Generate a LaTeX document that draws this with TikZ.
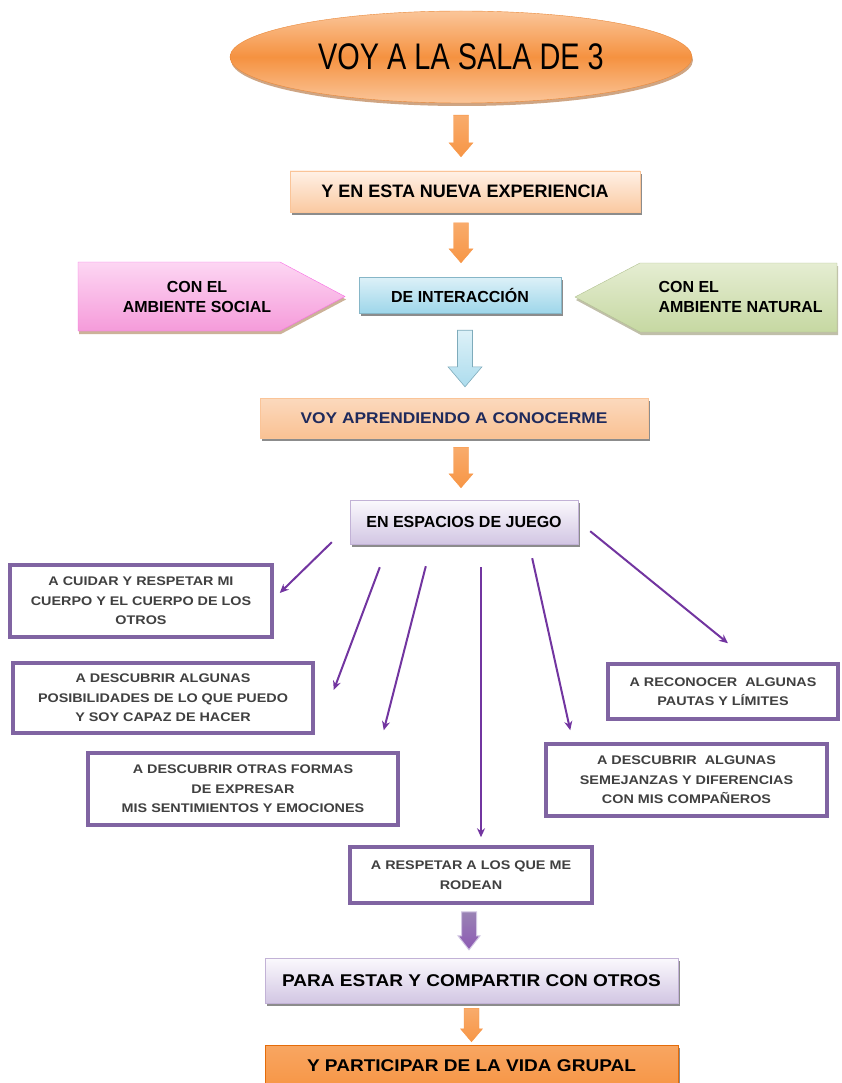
\documentclass[tikz,border=0pt]{standalone}
\usepackage{fontspec}
\setmainfont{Liberation Sans}
\newfontfamily\narrowfont[FakeStretch=0.78]{Liberation Sans}
\newfontfamily\widefont[FakeStretch=1.12]{Liberation Sans}
\newfontfamily\boxfont[FakeStretch=1.15]{Liberation Sans}
\usetikzlibrary{shapes.geometric,shadows,calc,arrows.meta}

\definecolor{orangecustom}{HTML}{F79646}
\definecolor{orangedeep}{HTML}{E46C0A}
\definecolor{peachlight}{HTML}{FFF1E6}
\definecolor{peach}{HTML}{FAC9A1}
\definecolor{bluelight}{HTML}{DDF1F8}
\definecolor{bluemid}{HTML}{9ED6EA}
\definecolor{lilaclight}{HTML}{FBF9FD}
\definecolor{lilac}{HTML}{D2C6E3}
\definecolor{purplecustom}{HTML}{8064A2}
\definecolor{violetline}{HTML}{7030A0}
\definecolor{navytext}{HTML}{1F2A5C}
\definecolor{pinklight}{HTML}{FDD6F3}
\definecolor{pinkdark}{HTML}{F59BDA}
\definecolor{greenlight}{HTML}{E5EDD2}
\definecolor{greendark}{HTML}{C6D8A2}

\tikzset{
  shade box/.style={rectangle, inner sep=0pt, align=center,
    drop shadow={shadow xshift=2pt, shadow yshift=-3pt, fill=black!75, opacity=0.6}},
  peachbox/.style={shade box, top color=peachlight, bottom color=peach, draw=peach!90!orangecustom},
  bluebox/.style={shade box, top color=bluelight, bottom color=bluemid, draw=bluemid!85!black},
  lilacbox/.style={shade box, top color=lilaclight, bottom color=lilac, draw=lilac!80!purplecustom},
  orangebox/.style={shade box, top color=orangecustom!85, bottom color=orangecustom, draw=orangedeep},
  itembox/.style={rectangle, draw=purplecustom, line width=3.5pt, fill=white, inner sep=0pt,
    align=center, text=black!75, font=\boxfont\bfseries\fontsize{12.5}{19.5}\selectfont},
  link/.style={draw=violetline!90!purplecustom, line width=2pt, -{Stealth[length=9pt,width=8pt]}},
  orangearrow/.style={top color=orangecustom!80, bottom color=orangecustom, draw=orangecustom},
  bluearrow/.style={top color=bluelight, bottom color=bluemid!85, draw=bluemid!80!black, line width=0.6pt},
  violetarrow/.style={top color=purplecustom!80, bottom color=violetline!80, draw=lilac, line width=1pt}
}

% block arrow pointing down: style, from, to, half shaft, half head, head length
\newcommand{\blockarrow}[6][]{%
  \path[#1] let \p1=(#2), \p2=(#3) in
    (\x1-#4,\y1) -- (\x1+#4,\y1) -- (\x1+#4,\y2+#6) -- (\x1+#5,\y2+#6)
    -- (\x1,\y2) -- (\x1-#5,\y2+#6) -- (\x1-#4,\y2+#6) -- cycle;}

\begin{document}
\begin{tikzpicture}[x=1pt, y=-1pt]
  \useasboundingbox (0,0) rectangle (841,1083);
  \clip (0,0) rectangle (841,1083);

  % Title
  \node[ellipse, inner sep=0pt, minimum width=462, minimum height=92,
        top color=orangecustom!55, bottom color=orangecustom!55, middle color=orangecustom!90!orangedeep,
        draw=orangedeep!80, drop shadow={shadow xshift=1pt, shadow yshift=-3pt, fill=orangedeep!70!black, opacity=0.5},
        font=\narrowfont\fontsize{37}{40}\selectfont] (sala) at (461,57) {VOY A LA SALA DE 3};

  % Main column
  \node[peachbox, minimum width=350, minimum height=41, font=\bfseries\fontsize{18}{20}\selectfont]
    (nueva) at (465,191.5) {Y EN ESTA NUEVA EXPERIENCIA};
  \node[bluebox, minimum width=202, minimum height=36, font=\bfseries\fontsize{16}{18}\selectfont]
    (interaccion) at (460,295) {DE INTERACCIÓN};
  \node[peachbox, minimum width=388, minimum height=40, text=navytext,
        top color=peach!70, bottom color=peach!85!orangecustom, font=\widefont\bfseries\fontsize{15.5}{18}\selectfont]
    (aprendo) at (454,418) {VOY APRENDIENDO A CONOCERME};
  \node[lilacbox, minimum width=228, minimum height=44, font=\bfseries\fontsize{16}{18}\selectfont]
    (juego) at (464,522) {EN ESPACIOS DE JUEGO};

  % Side arrows
  \path[top color=pinklight, bottom color=pinkdark, draw=pinkdark!70!magenta,
        drop shadow={shadow xshift=1pt, shadow yshift=-3pt, fill=brown!80!black, opacity=0.5}]
    (78,262) -- (280,262) -- (345,296.5) -- (280,331) -- (78,331) -- cycle;
  \node[align=center, font=\bfseries\fontsize{16}{20}\selectfont] (social) at (197,297) {CON EL\\AMBIENTE SOCIAL};
  \path[top color=greenlight, bottom color=greendark, draw=greendark!90!black,
        drop shadow={shadow xshift=1pt, shadow yshift=-3pt, fill=olive!60!black, opacity=0.4}]
    (575,297) -- (640,263) -- (837,263) -- (837,332) -- (640,332) -- cycle;
  \node[align=left, anchor=west, font=\bfseries\fontsize{16}{20}\selectfont] (natural) at (655,297) {CON EL\\AMBIENTE NATURAL};

  % Play spaces
  \node[itembox, minimum width=262, minimum height=72] (cuidar) at (141,601)
    {A CUIDAR Y RESPETAR MI\\CUERPO Y EL CUERPO DE LOS\\OTROS};
  \node[itembox, minimum width=300, minimum height=70] (posib) at (163,698)
    {A DESCUBRIR ALGUNAS\\POSIBILIDADES DE LO QUE PUEDO\\Y SOY CAPAZ DE HACER};
  \node[itembox, minimum width=310, minimum height=72] (expresar) at (243,789)
    {A DESCUBRIR OTRAS FORMAS\\DE EXPRESAR\\MIS SENTIMIENTOS Y EMOCIONES};
  \node[itembox, minimum width=230, minimum height=55] (reconocer) at (723,691.5)
    {A RECONOCER~~ALGUNAS\\PAUTAS Y LÍMITES};
  \node[itembox, minimum width=281, minimum height=72] (semejanzas) at (686.5,780)
    {A DESCUBRIR~~ALGUNAS\\SEMEJANZAS Y DIFERENCIAS\\CON MIS COMPAÑEROS};
  \node[itembox, minimum width=242, minimum height=56] (respetar) at (471,875)
    {A RESPETAR A LOS QUE ME\\RODEAN};

  % Bottom
  \node[lilacbox, minimum width=413, minimum height=45, font=\widefont\bfseries\fontsize{17}{19}\selectfont]
    (estar) at (471.5,980.5) {PARA ESTAR Y COMPARTIR CON OTROS};
  \node[orangebox, minimum width=413, minimum height=42, font=\widefont\bfseries\fontsize{17}{19}\selectfont]
    (grupal) at (471.5,1066) {Y PARTICIPAR DE LA VIDA GRUPAL};

  % Block arrows
  \blockarrow[orangearrow]{$(sala.south)+(0,12)$}{$(nueva.north)+(-5,-14)$}{7.5pt}{12pt}{14pt}
  \blockarrow[orangearrow]{$(nueva.north)+(-4,52)$}{$(interaccion.north)+(0,-14)$}{7.5pt}{12pt}{14pt}
  \blockarrow[bluearrow]{$(interaccion.south)+(5,17)$}{$(aprendo.north)+(0,-11)$}{7.5pt}{17pt}{20pt}
  \blockarrow[orangearrow]{$(aprendo.south)+(7,9)$}{$(juego.north)+(0,-12)$}{7.5pt}{12pt}{14pt}
  \blockarrow[violetarrow]{$(respetar.south)+(-2,7)$}{$(estar.north)+(0,-8)$}{7.5pt}{11pt}{14pt}
  \blockarrow[orangearrow]{$(estar.south)+(0,5)$}{$(grupal.north)+(0,-3)$}{7.5pt}{11pt}{13pt}

  % Links from the play spaces
  \draw[link] ($(juego.south west)+(-18,-2)$) -- ($(cuidar.east)+(6,-8)$);
  \draw[link] ($(juego.south west)+(30,23)$) -- ($(posib.east)+(19,-8)$);
  \draw[link] ($(juego.south west)+(76,22)$) -- ($(expresar.north east)+(-16,-21)$);
  \draw[link] ($(juego.south)+(17,23)$) -- ($(respetar.north)+(10,-8)$);
  \draw[link] ($(juego.south east)+(-46,14)$) -- ($(semejanzas.north west)+(26,-12)$);
  \draw[link] ($(juego.south east)+(12,-13)$) -- ($(reconocer.north)+(5,-19)$);
\end{tikzpicture}
\end{document}
